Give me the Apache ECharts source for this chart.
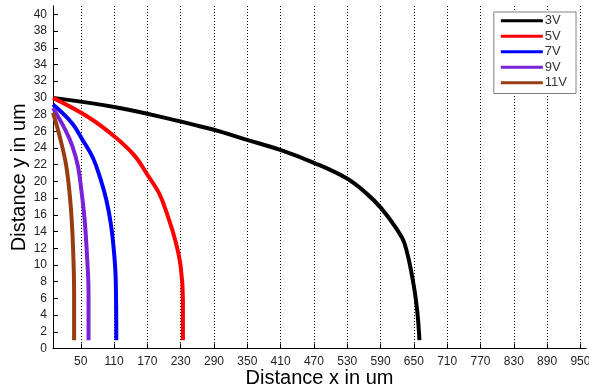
<!DOCTYPE html>
<html>
<head>
<meta charset="utf-8">
<script src="https://cdn.jsdelivr.net/npm/echarts@6/dist/echarts.min.js"></script>
<style>html,body{margin:0;padding:0;background:#fff}#c{width:589px;height:390px}</style>
</head>
<body>
<div id="c"></div>
<script>
var seriesNames = ['3V', '5V', '7V', '9V', '11V'];
var xTicks = [50,110,170,230,290,350,410,470,530,590,650,710,770,830,890,950];
var yTicks = [0,2,4,6,8,10,12,14,16,18,20,22,24,26,28,30,32,34,36,38,40];

var x3V = [0, 120, 228, 264, 300, 348, 408, 471, 528, 564, 591, 618, 633, 648, 656, 660];
var y3V = [30, 28.8, 27.2, 26.6, 26, 25, 23.8, 22.2, 20.4, 18.6, 16.8, 14.4, 12.6, 8.2, 4.5, 1];
var x5V = [0, 66, 114, 148, 172, 191, 205, 220, 230, 234, 234];
var y5V = [30, 27.6, 25.2, 23, 20.6, 18.6, 16.2, 13, 9.8, 5.8, 1];
var x7V = [0, 34, 53, 72, 86, 96, 104, 109, 113, 114];
var y7V = [29.2, 27, 25, 22.8, 20.2, 17.8, 15, 12.2, 8.2, 1];
var x9V = [0, 22, 35, 45, 51, 57, 61, 64, 64];
var y9V = [28.8, 26.2, 24.2, 21.8, 19, 15.4, 11.4, 6.6, 1];
var x11V = [0, 12, 24, 32, 36, 38, 38];
var y11V = [28.2, 25.4, 21.8, 17, 12.2, 6.6, 1];

var xs = [x3V, x5V, x7V, x9V, x11V];
var ys = [y3V, y5V, y7V, y9V, y11V];
var colors = ['#000000', '#ff0000', '#0000ff', '#7a22d8', '#983c12'];

function pairs(a, b) { return a.map(function (v, i) { return [v, b[i]]; }); }

var chart = echarts.init(document.getElementById('c'), null, {renderer: 'canvas'});
chart.setOption({
  animation: false,
  backgroundColor: '#ffffff',
  grid: {left: 53, right: 3, top: 6, bottom: 41.5, containLabel: false, outerBoundsMode: 'none'},
  legend: {
    orient: 'vertical', right: 13, top: 12,
    backgroundColor: '#ffffff', borderColor: '#808080', borderWidth: 1,
    padding: [1, 9, 3, 7], itemGap: 0,
    icon: 'rect', itemWidth: 42, itemHeight: 3,
    textStyle: {fontFamily: 'Liberation Sans, Arial', fontSize: 13, color: '#333', lineHeight: 15.5, padding: [0,0,0,-3]},
    data: seriesNames
  },
  xAxis: {
    type: 'value', min: 0, max: 960,
    name: 'Distance x in um', nameLocation: 'middle', nameGap: 20, nameMoveOverlap: false,
    nameTextStyle: {fontFamily: 'Liberation Sans, Arial', fontSize: 20, color: '#000'},
    axisLine: {show: true, lineStyle: {color: '#000', width: 1}},
    axisTick: {show: true, inside: true, length: 5, customValues: xTicks, lineStyle: {color: '#000'}},
    axisLabel: {customValues: xTicks, margin: 7, fontFamily: 'Liberation Sans, Arial', fontSize: 12, color: '#222'},
    splitLine: {show: true, lineStyle: {type: [1, 2], color: '#000', width: 1}}
  },
  yAxis: {
    type: 'value', min: 0, max: 41,
    name: 'Distance y in um', nameLocation: 'middle', nameGap: 24, nameRotate: 90, nameMoveOverlap: false,
    nameTextStyle: {fontFamily: 'Liberation Sans, Arial', fontSize: 20, color: '#000'},
    axisLine: {show: true, lineStyle: {color: '#000', width: 1}},
    axisTick: {show: true, inside: true, length: 5, customValues: yTicks, lineStyle: {color: '#000'}},
    axisLabel: {customValues: yTicks, margin: 6, fontFamily: 'Liberation Sans, Arial', fontSize: 12, color: '#222'},
    splitLine: {show: false}
  },
  series: seriesNames.map(function (n, i) {
    return {
      name: n, type: 'line', data: pairs(xs[i], ys[i]),
      showSymbol: false, symbol: 'none', smooth: 0.4,
      color: colors[i],
      lineStyle: {color: colors[i], width: 4}
    };
  })
});
</script>
</body>
</html>
